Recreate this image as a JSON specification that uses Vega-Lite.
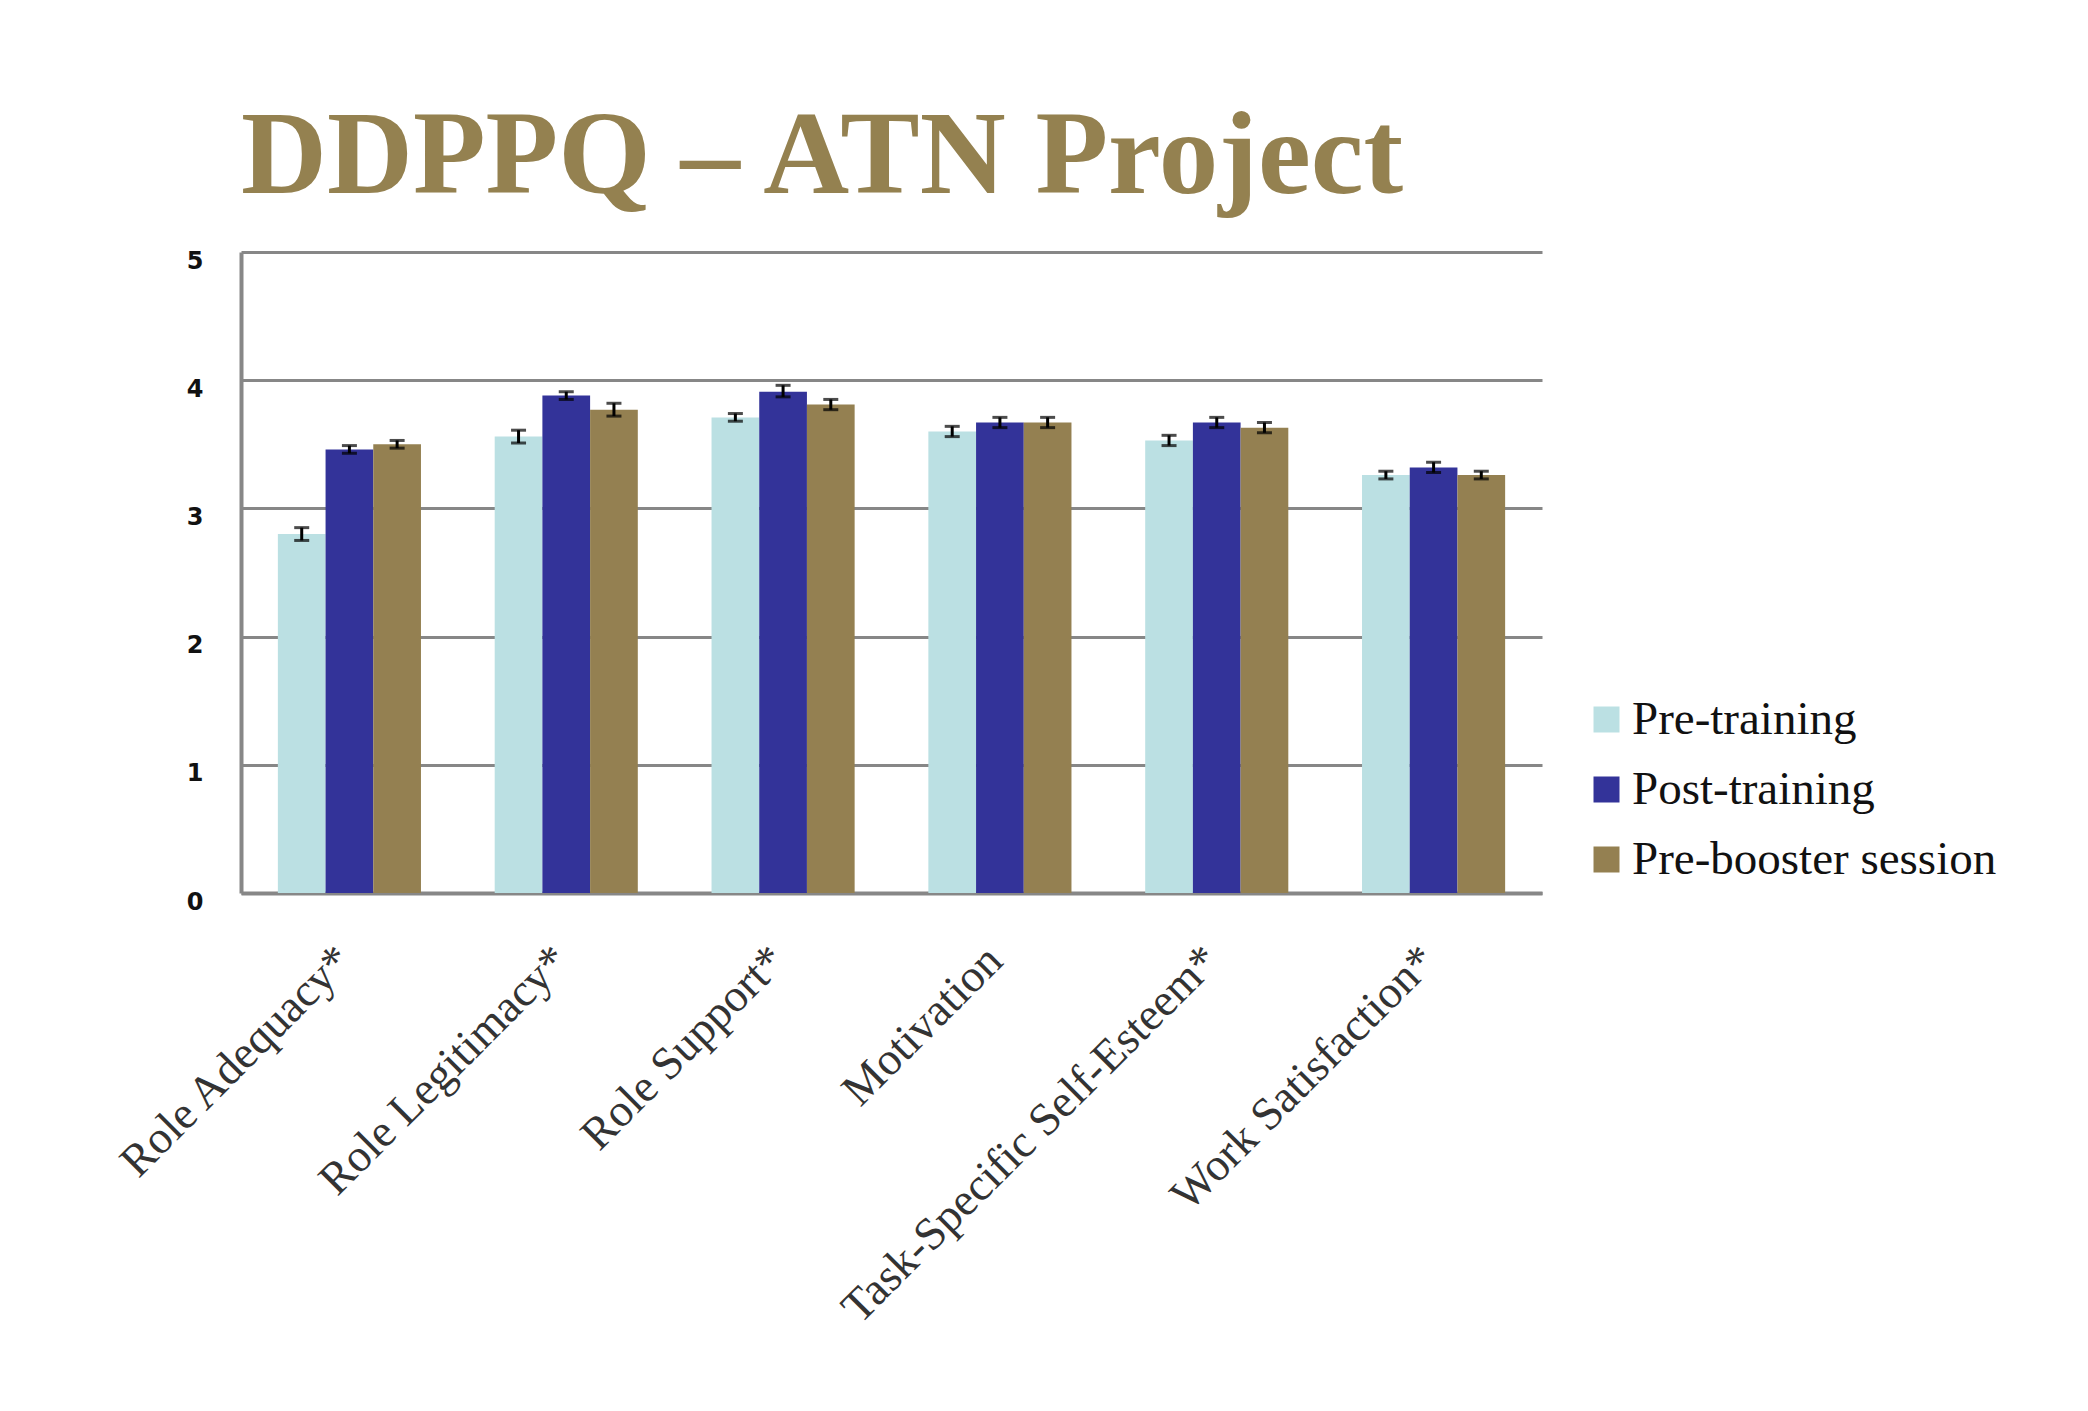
{
  "$schema": "https://vega.github.io/schema/vega-lite/v6.json",
  "width": 1301,
  "height": 641,
  "autosize": "none",
  "padding": {"left": 241, "top": 252, "right": 546, "bottom": 518},
  "background": "white",
  "title": {
    "text": "DDPPQ – ATN Project",
    "anchor": "start",
    "frame": "group",
    "font": "Liberation Serif",
    "fontSize": 119,
    "fontWeight": "bold",
    "color": "#948150",
    "baseline": "alphabetic",
    "offset": -63
  },
  "config": {"view": {"stroke": null}},
  "data": {
    "values": [
      {"measure": "Role Adequacy*", "group": "Pre-training", "mean": 2.80, "lo": 2.75, "hi": 2.85},
      {"measure": "Role Adequacy*", "group": "Post-training", "mean": 3.46, "lo": 3.43, "hi": 3.49},
      {"measure": "Role Adequacy*", "group": "Pre-booster  session", "mean": 3.50, "lo": 3.47, "hi": 3.53},
      {"measure": "Role Legitimacy*", "group": "Pre-training", "mean": 3.56, "lo": 3.51, "hi": 3.61},
      {"measure": "Role Legitimacy*", "group": "Post-training", "mean": 3.88, "lo": 3.85, "hi": 3.91},
      {"measure": "Role Legitimacy*", "group": "Pre-booster  session", "mean": 3.77, "lo": 3.72, "hi": 3.82},
      {"measure": "Role Support*", "group": "Pre-training", "mean": 3.71, "lo": 3.68, "hi": 3.74},
      {"measure": "Role Support*", "group": "Post-training", "mean": 3.91, "lo": 3.87, "hi": 3.96},
      {"measure": "Role Support*", "group": "Pre-booster  session", "mean": 3.81, "lo": 3.77, "hi": 3.85},
      {"measure": "Motivation", "group": "Pre-training", "mean": 3.60, "lo": 3.56, "hi": 3.64},
      {"measure": "Motivation", "group": "Post-training", "mean": 3.67, "lo": 3.63, "hi": 3.71},
      {"measure": "Motivation", "group": "Pre-booster  session", "mean": 3.67, "lo": 3.63, "hi": 3.71},
      {"measure": "Task-Specific Self-Esteem*", "group": "Pre-training", "mean": 3.53, "lo": 3.49, "hi": 3.57},
      {"measure": "Task-Specific Self-Esteem*", "group": "Post-training", "mean": 3.67, "lo": 3.63, "hi": 3.71},
      {"measure": "Task-Specific Self-Esteem*", "group": "Pre-booster  session", "mean": 3.63, "lo": 3.59, "hi": 3.67},
      {"measure": "Work Satisfaction*", "group": "Pre-training", "mean": 3.26, "lo": 3.23, "hi": 3.29},
      {"measure": "Work Satisfaction*", "group": "Post-training", "mean": 3.32, "lo": 3.28, "hi": 3.36},
      {"measure": "Work Satisfaction*", "group": "Pre-booster  session", "mean": 3.26, "lo": 3.23, "hi": 3.29}
    ]
  },
  "encoding": {
    "x": {
      "field": "measure",
      "type": "nominal",
      "sort": ["Role Adequacy*", "Role Legitimacy*", "Role Support*", "Motivation", "Task-Specific Self-Esteem*", "Work Satisfaction*"],
      "scale": {"paddingInner": 0.34, "paddingOuter": 0.17},
      "axis": {
        "title": null,
        "labelAngle": -45,
        "labelAlign": "right",
        "labelBaseline": "middle",
        "labelFont": "Liberation Serif",
        "labelFontSize": 46,
        "labelColor": "#333333",
        "labelPadding": 60,
        "labelOffset": -5,
        "labelLimit": 0,
        "ticks": false,
        "domainColor": "#878787",
        "domainWidth": 4
      }
    },
    "xOffset": {
      "field": "group",
      "type": "nominal",
      "sort": ["Pre-training", "Post-training", "Pre-booster  session"]
    }
  },
  "layer": [
    {
      "mark": {"type": "bar"},
      "encoding": {
        "y": {
          "field": "mean",
          "type": "quantitative",
          "scale": {"domain": [0, 5]},
          "axis": {
            "title": null,
            "values": [0, 1, 2, 3, 4, 5],
            "format": "d",
            "grid": true,
            "gridColor": "#878787",
            "gridWidth": 3,
            "gridOpacity": 1,
            "domainColor": "#878787",
            "domainWidth": 4,
            "ticks": false,
            "labelFont": "DejaVu Sans",
            "labelFontWeight": "bold",
            "labelFontSize": 24,
            "labelColor": "#111111",
            "labelPadding": 38,
            "labelOffset": 9
          }
        },
        "color": {
          "field": "group",
          "type": "nominal",
          "sort": ["Pre-training", "Post-training", "Pre-booster  session"],
          "scale": {
            "domain": ["Pre-training", "Post-training", "Pre-booster  session"],
            "range": ["#BBE0E3", "#333399", "#948051"]
          },
          "legend": {
            "title": null,
            "orient": "none",
            "legendX": 1342,
            "legendY": 444,
            "symbolType": "square",
            "symbolSize": 676,
            "symbolStrokeWidth": 0,
            "labelFont": "Liberation Serif",
            "labelFontSize": 47,
            "labelColor": "#111111",
            "labelOffset": 2,
            "labelLimit": 0,
            "rowPadding": 22
          }
        }
      }
    },
    {
      "mark": {"type": "rule", "color": "black", "strokeWidth": 3},
      "encoding": {
        "y": {"field": "lo", "type": "quantitative"},
        "y2": {"field": "hi"}
      }
    },
    {
      "mark": {"type": "tick", "color": "black", "thickness": 3, "size": 15},
      "encoding": {"y": {"field": "lo", "type": "quantitative"}}
    },
    {
      "mark": {"type": "tick", "color": "black", "thickness": 3, "size": 15},
      "encoding": {"y": {"field": "hi", "type": "quantitative"}}
    }
  ]
}
